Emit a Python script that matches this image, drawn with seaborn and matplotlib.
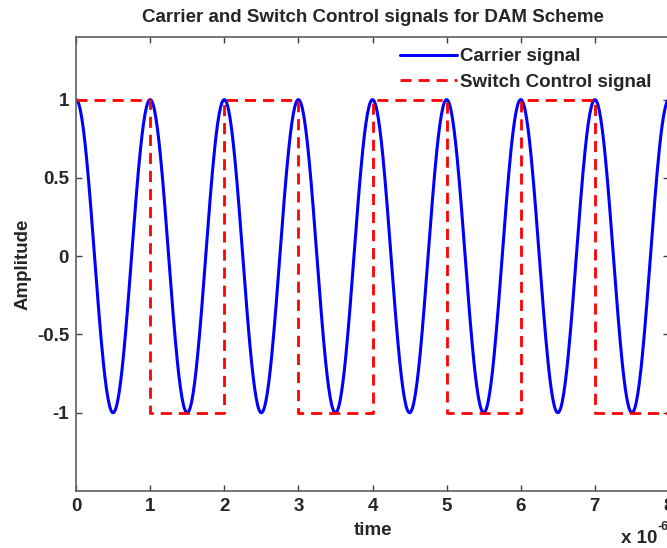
import numpy as np
import pandas as pd
import seaborn as sns
import matplotlib
matplotlib.use("Agg")
import matplotlib.pyplot as plt
from matplotlib.ticker import FuncFormatter, FixedLocator

# ---- data ----
carrier_freq_hz = 1e6          # carrier frequency (1 MHz)
carrier_amp = 1.0
t_start, t_end = 0.0, 8e-6
n_samples = 801
switch_edges_s = [0, 1e-6, 2e-6, 3e-6, 4e-6, 5e-6, 6e-6, 7e-6, 8e-6]
switch_levels = [1, -1, 1, -1, 1, -1, 1, -1, -1]
x_ticks = [0, 1e-6, 2e-6, 3e-6, 4e-6, 5e-6, 6e-6, 7e-6, 8e-6]
y_ticks = [-1, -0.5, 0, 0.5, 1]
y_tick_labels = ["-1", "-0.5", "0", "0.5", "1"]

time_s = np.linspace(t_start, t_end, n_samples)
carrier = carrier_amp * np.cos(2 * np.pi * carrier_freq_hz * time_s)

carrier_df = pd.DataFrame({"time": time_s, "amp": carrier})
switch_df = pd.DataFrame({"time": switch_edges_s, "amp": switch_levels})

# ---- figure ----
sns.set_theme(style="white")
plt.rcParams["font.family"] = ["Liberation Sans", "DejaVu Sans"]
plt.rcParams["font.weight"] = "bold"

FS = 13.5

fig = plt.figure(figsize=(6.67, 5.48), dpi=100)
ax = fig.add_axes([76 / 667, 57 / 548, 593 / 667, 454 / 548])

sns.lineplot(data=carrier_df, x="time", y="amp", ax=ax, color="#0000ff",
             linewidth=2.2, label="Carrier signal", sort=False,
             estimator=None)
sns.lineplot(data=switch_df, x="time", y="amp", ax=ax, color="#ff0000",
             linewidth=2.0, label="Switch Control signal", sort=False,
             estimator=None, drawstyle="steps-post", linestyle=(0, (4, 2.5)))

ax.set_xlim(0, 8e-6)
ax.set_ylim(-1.5, 1.4)
ax.xaxis.set_major_locator(FixedLocator(x_ticks))
ax.xaxis.set_major_formatter(FuncFormatter(lambda v, p: f"{v * 1e6:g}"))
ax.set_yticks(y_ticks)
ax.set_yticklabels(y_tick_labels)

ax.tick_params(axis="both", which="both", direction="in", length=4.5,
               width=1, color="#404040", labelsize=FS, top=True, right=True,
               bottom=True, left=True, pad=5)
for lab in ax.get_xticklabels() + ax.get_yticklabels():
    lab.set_fontweight("bold")

for s in ax.spines.values():
    s.set_color("#606060")
    s.set_linewidth(1.2)

ax.set_xlabel("time", fontsize=FS, fontweight="bold", labelpad=5)
ax.set_ylabel("Amplitude", fontsize=FS, fontweight="bold", labelpad=4)
ax.set_title("Carrier and Switch Control signals for DAM Scheme",
             fontsize=FS, fontweight="bold", pad=11)

fig.text(621 / 667, 1 - 543 / 548, "x 10", fontsize=FS,
         fontweight="bold", va="baseline", ha="left")
fig.text(657 / 667, 1 - 530 / 548, "-6", fontsize=9,
         fontweight="bold", va="baseline", ha="left")

leg = ax.legend(loc="upper right", frameon=False, fontsize=FS,
                handlelength=3.0, borderaxespad=0.2, labelspacing=0.45,
                handletextpad=0.2, bbox_to_anchor=(0.99, 1.0))
for t in leg.get_texts():
    t.set_fontweight("bold")

fig.savefig("out.png", dpi=100)
